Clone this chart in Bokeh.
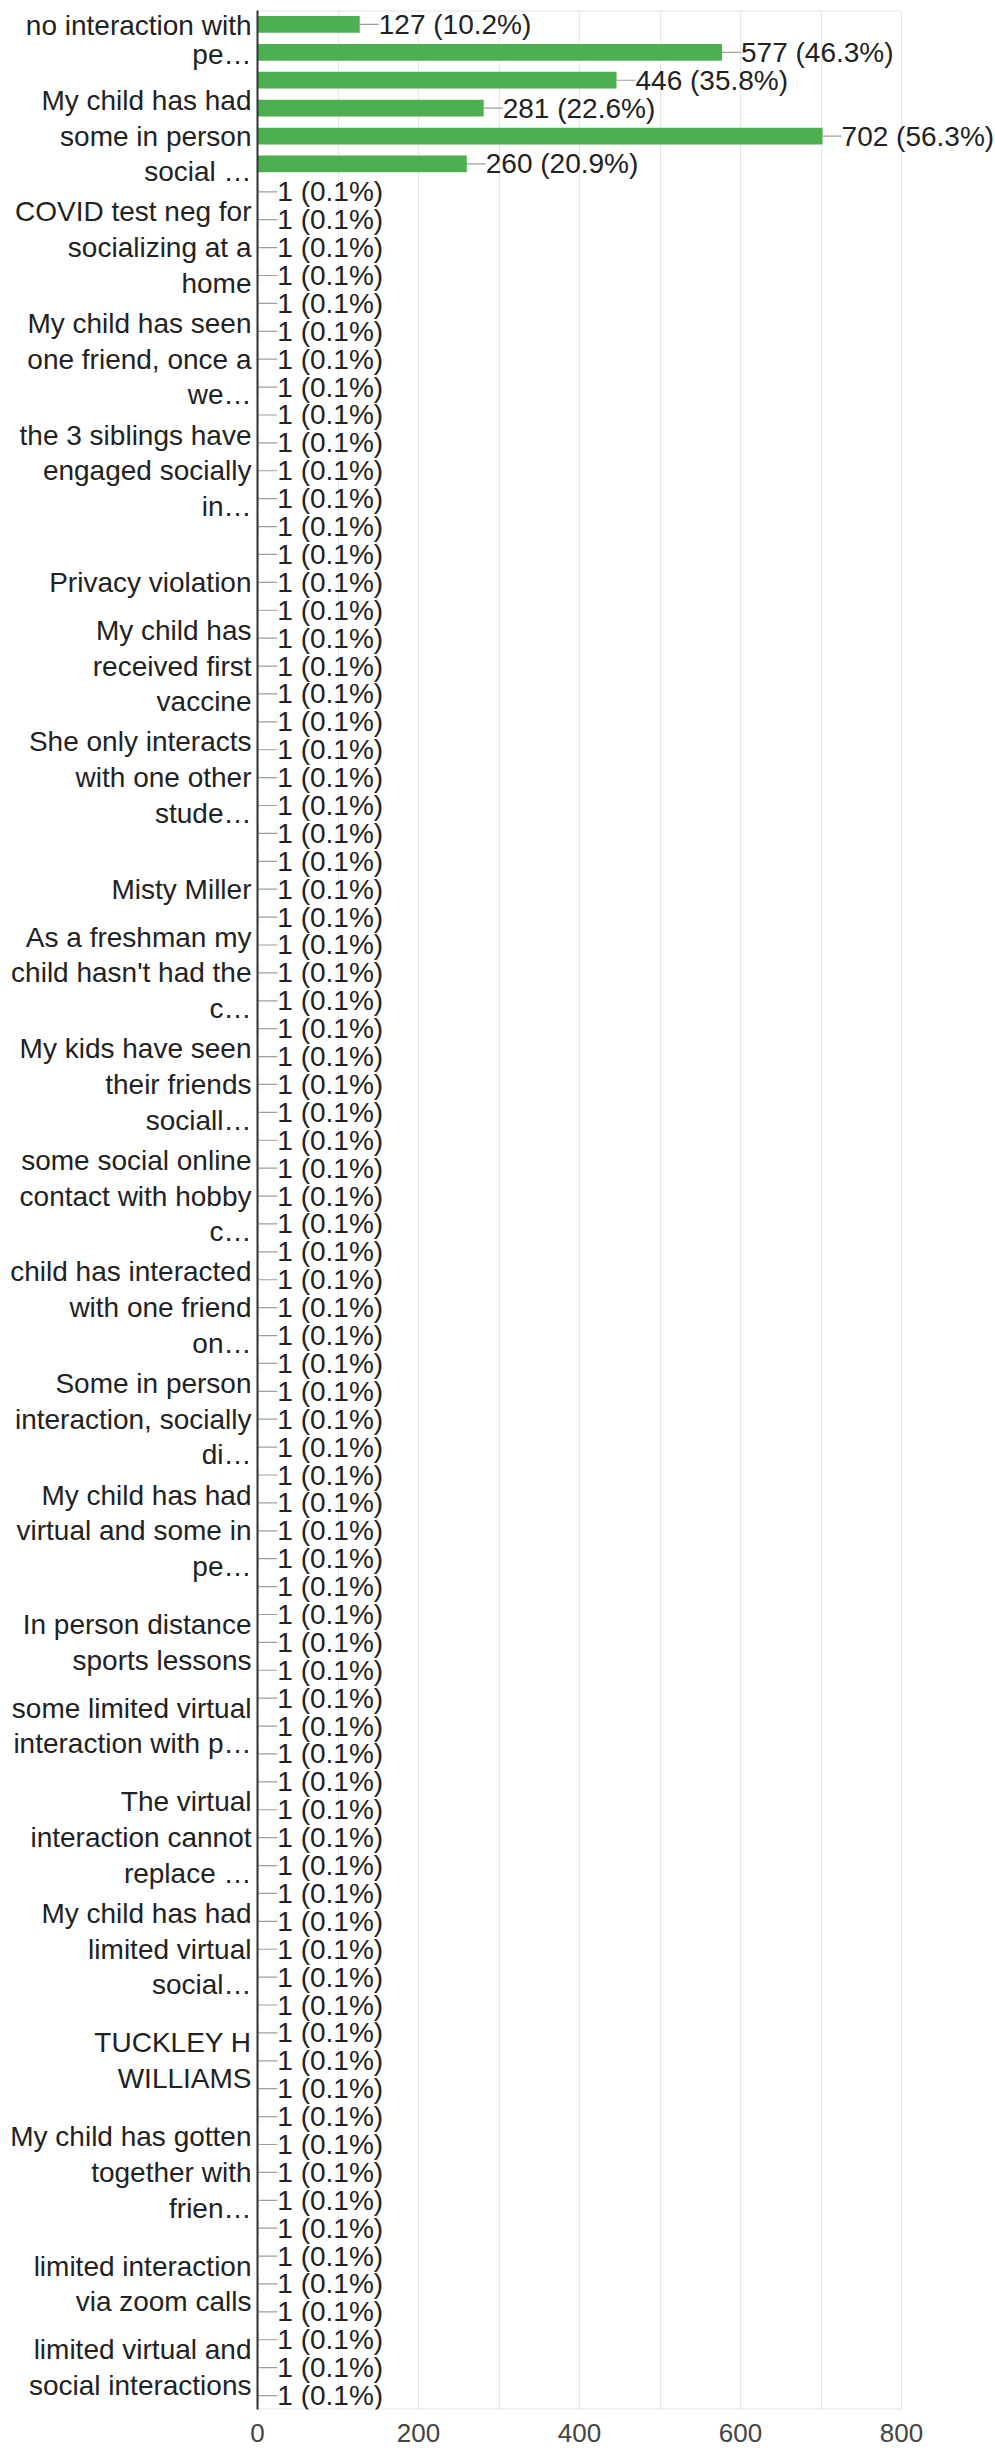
from bokeh.plotting import figure
from bokeh.models import Range1d, FixedTicker, LabelSet, ColumnDataSource
from bokeh.core.properties import value
from bokeh.embed import file_html
from bokeh.resources import INLINE

# ---------------- data ----------------
big_counts = [127, 577, 446, 281, 702, 260]
single_counts = [
    1, 1, 1, 1, 1, 1, 1, 1, 1, 1, 1, 1, 1, 1, 1, 1, 1, 1, 1, 1,
    1, 1, 1, 1, 1, 1, 1, 1, 1, 1, 1, 1, 1, 1, 1, 1, 1, 1, 1, 1,
    1, 1, 1, 1, 1, 1, 1, 1, 1, 1, 1, 1, 1, 1, 1, 1, 1, 1, 1, 1,
    1, 1, 1, 1, 1, 1, 1, 1, 1, 1, 1, 1, 1, 1, 1, 1, 1, 1, 1, 1,
]
respondents = 1246
counts = big_counts + single_counts

# rows (0 = top) that carry a visible category label, and their wrapped text
label_rows = [0.05, 1.06, 4, 8, 12, 16, 20, 23, 27, 31, 34, 38, 42, 46, 50, 54, 58,
              61, 65, 69, 73, 77, 81, 84]
label_texts = [
    "no interaction with",
    "pe…",
    "My child has had\nsome in person\nsocial …",
    "COVID test neg for\nsocializing at a\nhome",
    "My child has seen\none friend, once a\nwe…",
    "the 3 siblings have\nengaged socially\nin…",
    "Privacy violation",
    "My child has\nreceived first\nvaccine",
    "She only interacts\nwith one other\nstude…",
    "Misty Miller",
    "As a freshman my\nchild hasn't had the\nc…",
    "My kids have seen\ntheir friends\nsociall…",
    "some social online\ncontact with hobby\nc…",
    "child has interacted\nwith one friend\non…",
    "Some in person\ninteraction, socially\ndi…",
    "My child has had\nvirtual and some in\npe…",
    "In person distance\nsports lessons",
    "some limited virtual\ninteraction with p…",
    "The virtual\ninteraction cannot\nreplace …",
    "My child has had\nlimited virtual\nsocial…",
    "TUCKLEY H\nWILLIAMS",
    "My child has gotten\ntogether with\nfrien…",
    "limited interaction\nvia zoom calls",
    "limited virtual and\nsocial interactions",
]
x_ticks = [0, 200, 400, 600, 800]
grid_ticks = [0, 100, 200, 300, 400, 500, 600, 700, 800]

# ---------------- layout / style ----------------
W, H = 995, 2452
LEFT, TOP, BOTTOM = 257, 10, 43
AXIS_PX = 644            # pixels from 0 to 800 on the value axis
x_max = 800
px_per_unit = AXIS_PX / x_max
x_end = (W - LEFT) / px_per_unit   # frame runs to the right edge so labels are not clipped
stem_px = 19
stem_units = stem_px / px_per_unit

FONT = "Liberation Sans"
GREEN = "#4caf50"
BORDER = "#e6e6e6"
TXT = "28px"

n = len(counts)
rows = list(range(n))
value_labels = [f"{c} ({c / respondents * 100:.1f}%)" for c in counts]

src = ColumnDataSource(dict(
    y=rows, c=counts, stem_end=[c + stem_units for c in counts], lab=value_labels,
))

p = figure(width=W, height=H, output_backend="svg", toolbar_location=None,
           x_range=Range1d(0, x_end), y_range=Range1d(n - 0.5, -0.5),
           min_border_left=LEFT, min_border_right=0,
           min_border_top=TOP, min_border_bottom=BOTTOM)

# frame border (top / bottom) limited to the 0..800 value span
p.segment(x0=[0, 0], x1=[x_max, x_max], y0=[-0.5, n - 0.5], y1=[-0.5, n - 0.5],
          line_color=BORDER, line_width=2)

p.hbar(y="y", left=0, right="c", height=0.6, source=src,
       fill_color=GREEN, line_color=None)
p.segment(x0="c", y0="y", x1="stem_end", y1="y", source=src,
          line_color="#9e9e9e", line_width=1.2)

labels = LabelSet(x="c", y="y", text="lab", source=src, x_offset=stem_px,
                  text_baseline="middle", text_align="left",
                  text_font=value(FONT), text_font_size=value(TXT),
                  text_color="#222222")
p.add_layout(labels)

# grid / outline
p.ygrid.grid_line_color = None
p.xgrid.ticker = FixedTicker(ticks=grid_ticks)
p.xgrid.grid_line_color = BORDER
p.xgrid.grid_line_width = 1
p.outline_line_color = None
p.background_fill_color = "white"
p.border_fill_color = "white"

# x axis
xa = p.xaxis[0]
xa.ticker = FixedTicker(ticks=x_ticks)
xa.axis_line_color = None
xa.major_tick_line_color = None
xa.minor_tick_line_color = None
xa.major_tick_out = 0
xa.major_tick_in = 0
xa.major_label_standoff = 14
xa.major_label_text_font = FONT
xa.major_label_text_font_size = "26px"
xa.major_label_text_color = "#444444"

# y axis
ya = p.yaxis[0]
ya.ticker = FixedTicker(ticks=label_rows)
ya.major_label_overrides = {r: t for r, t in zip(label_rows, label_texts)}
ya.axis_line_color = "#333333"
ya.axis_line_width = 2
ya.major_tick_line_color = None
ya.minor_tick_line_color = None
ya.major_tick_out = 0
ya.major_tick_in = 0
ya.major_label_standoff = 6
ya.major_label_text_font = FONT
ya.major_label_text_font_size = TXT
ya.major_label_text_color = "#222222"
ya.major_label_text_line_height = 1.15

open("out.html", "w").write(file_html(p, INLINE))
